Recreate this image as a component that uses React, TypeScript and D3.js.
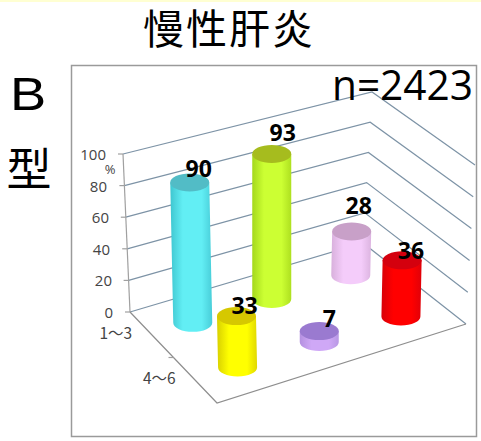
import React from "react";
import * as d3 from "d3";

const seriesKeys = ["a", "b", "c"];
const categories = ["1～3", "4～6"];
const backRow = [90, 93, 28];
const frontRow = [33, 7, 36];
const rowValues = [backRow, frontRow];
const bodyColors = [
  ["#3fc6d0", "#62eef4", "#48cdd8"],
  ["#a4d81c", "#ccff33", "#aee020"],
  ["#d8b0dc", "#f4ccfa", "#dcb4e0"],
  ["#d8d000", "#ffff00", "#e0d800"],
  ["#b490e0", "#cfa8f6", "#b898e4"],
  ["#d80008", "#ff0000", "#e00008"],
];
const topColors = ["#52bcc6", "#a6bc1e", "#c8a0c8", "#d6c800", "#9a7ad0", "#d4000e"];
const yTicks = [0, 20, 40, 60, 80, 100];
const title = "慢性肝炎";

const W = 481;
const H = 441;

// floor corners & top-of-wall corners of the 3D box
const uScale = d3.scaleBand<string>().domain(seriesKeys).range([0, 1]);
const vScale = d3.scaleBand<string>().domain(categories).range([0, 1]);
const yScale = d3.scaleLinear().domain([0, 100]).range([0, 1]);

const BL = [130, 312];
const BR = [363, 243];
const FL = [217, 403];
const FR = [466, 324];
const BLT = [123, 154];
const BRT = [372, 92];
const FRT = [475, 165];

const mix = (a: number[], b: number[], t: number) => [a[0] + (b[0] - a[0]) * t, a[1] + (b[1] - a[1]) * t];
const floor = (u: number, v: number) => mix(mix(BL, BR, u), mix(FL, FR, u), v);
const wallL = (val: number) => mix(BL, BLT, yScale(val));
const wallB = (val: number) => mix(BR, BRT, yScale(val));
const wallR = (val: number) => mix(FR, FRT, yScale(val));
const line = d3.line();

const RX = 19.5;
const RY = 9;
const PX_PER_UNIT = 1.56;
const LABEL_FONT = "'Open Sans', sans-serif";
const CJK = "'Noto Sans CJK JP', sans-serif";

const labelOffsets = [
  [6, -14],
  [11, -22],
  [8, -26],
  [7, -11],
  [10, -13],
  [10, -10],
];

export default function App() {
  const bars = rowValues.flatMap((row, r) =>
    row.map((value, c) => {
      const u = uScale(seriesKeys[c])! + uScale.bandwidth() / 2;
      const v = vScale(categories[r])! + vScale.bandwidth() / 2;
      const [x, y] = floor(u, v);
      const i = r * 3 + c;
      const lean = (u - 0.5) * 0.1 * value;
      return { value, x: x + 1.5, y, top: y - value * PX_PER_UNIT, topX: x + 1.5 + lean, i };
    })
  );
  const tickLabelX = [113, 112, 110, 109, 107, 106];
  return (
    <svg
      width={W}
      height={H}
      viewBox={`0 0 ${W} ${H}`}
      style={{ position: "fixed", left: 0, top: 0, background: "#fff" }}
    >
      <defs>
        {bodyColors.map((c, i) => (
          <linearGradient key={i} id={`g${i}`} x1="0" x2="1" y1="0" y2="0">
            <stop offset="0" stopColor={c[0]} />
            <stop offset="0.3" stopColor={c[1]} />
            <stop offset="0.75" stopColor={c[1]} />
            <stop offset="1" stopColor={c[2]} />
          </linearGradient>
        ))}
      </defs>
      <rect x={0} y={0} width={W} height={2} fill="#ffffd2" />
      <rect x={71.5} y={65.5} width={405} height={371} fill="#fff" stroke="#9a9a9a" strokeWidth={1.5} />

      {yTicks.map((t) => (
        <path
          key={t}
          d={line([wallL(t), wallB(t), wallR(t)] as [number, number][])!}
          fill="none"
          stroke="#7d93a6"
          strokeWidth={1.2}
        />
      ))}
      <path d={line([BL, BLT] as [number, number][])!} stroke="#a0a0a0" strokeWidth={1.2} fill="none" />
      <path d={line([BL, FL, FR] as [number, number][])!} stroke="#8e8e8e" strokeWidth={1.2} fill="none" />
      {yTicks.map((t) => {
        const [x, y] = wallL(t);
        return <line key={t} x1={x - 5} x2={x} y1={y} y2={y} stroke="#a0a0a0" strokeWidth={1.2} />;
      })}
      {(() => {
        const [x, y] = mix(BL, FL, 0.5);
        return <line x1={x - 5} x2={x} y1={y} y2={y} stroke="#a0a0a0" strokeWidth={1.2} />;
      })()}

      {yTicks.map((t, i) => (
        <text
          key={t}
          x={tickLabelX[i]}
          y={wallL(t)[1]}
          textAnchor="end"
          dominantBaseline="central"
          fontFamily={LABEL_FONT}
          fontSize={15}
          fill="#444"
        >
          {t}
        </text>
      ))}
      <text x={110} y={169} textAnchor="middle" dominantBaseline="central" fontFamily={LABEL_FONT} fontSize={13} fill="#444">
        %
      </text>
      {categories.map((c, i) => {
        const [x, y] = mix(BL, FL, vScale(c)! + vScale.bandwidth() / 2);
        return (
          <text
            key={c}
            x={x - 36}
            y={y - 3}
            textAnchor="middle"
            dominantBaseline="central"
            fontFamily={CJK}
            fontSize={15.5}
            fill="#444"
          >
            {c}
          </text>
        );
      })}

      {bars.map((b) => (
        <g key={b.i}>
          <path
            d={`M${b.topX - RX},${b.top} L${b.x - RX},${b.y} A${RX},${RY} 0 0 0 ${b.x + RX},${b.y} L${b.topX + RX},${b.top} Z`}
            fill={`url(#g${b.i})`}
          />
          <ellipse cx={b.topX} cy={b.top} rx={RX} ry={RY} fill={topColors[b.i]} />
        </g>
      ))}
      {bars.map((b) => (
        <text
          key={b.i}
          x={b.x + labelOffsets[b.i][0]}
          y={b.top + labelOffsets[b.i][1]}
          textAnchor="middle"
          dominantBaseline="central"
          fontFamily={LABEL_FONT}
          fontWeight={700}
          fontSize={23}
          fill="#000"
        >
          {b.value}
        </text>
      ))}

      <text x={143} y={44} fontFamily={CJK} fontWeight={400} fontSize={41} letterSpacing={2} fill="#000">
        {title}
      </text>
      <text
        x={332}
        y={100}
        fontFamily={LABEL_FONT}
        fontSize={42}
        textLength={141}
        lengthAdjust="spacingAndGlyphs"
        fill="#000"
      >
        n=2423
      </text>
      <text
        transform="translate(10,110) scale(1.18,1)"
        fontFamily="'Liberation Sans', sans-serif"
        fontSize={46}
        fill="#000"
      >
        B
      </text>
      <text x={6.5} y={186} fontFamily={CJK} fontSize={45} fill="#000">
        型
      </text>
    </svg>
  );
}
